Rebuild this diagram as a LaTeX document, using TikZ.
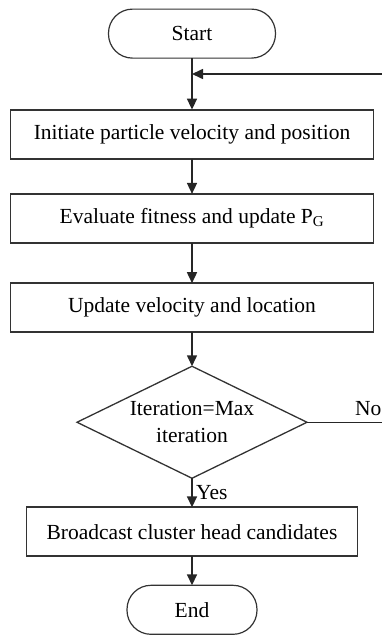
\documentclass[tikz,border=0pt]{standalone}
\usepackage{fontspec}
\setmainfont{Liberation Serif}
\usetikzlibrary{arrows.meta,shapes.geometric,matrix}
\begin{document}
\begin{tikzpicture}[
      x = 1pt, y = 1pt,
      font = \fontsize{21.5}{27}\selectfont,
      term/.style = {
        rectangle,
        draw = black!80, line width = 1.2pt,
        rounded corners = 24pt,
        minimum height = 49pt,
        outer sep = 0,
      },
      box/.style = {
        rectangle,
        draw = black!80, line width = 1.8pt,
        minimum width = 363pt,
        minimum height = 49pt,
        outer sep = 0,
      },
      decision/.style = {
        diamond, aspect = 2.1,
        draw = black!80, line width = 1.3pt,
        align = center,
        inner sep = 0,
        minimum width = 230pt,
        minimum height = 112pt,
        outer sep = 0,
      },
      flow/.style = {
        line width = 1.6pt, draw = black!85,
        -{Triangle[length = 11pt, width = 10pt]},
      },
    ]
    \useasboundingbox (0,0) rectangle (382,-635);

    \matrix[row sep = 33.5pt, inner sep = 0, outer sep = 0, anchor = north] at (192,-8.5) {
      \node[term, minimum width = 167pt] (start) {Start}; \\[16.5pt]
      \node[box] (init) {Initiate particle velocity and position}; \\
      \node[box] (eval) {Evaluate fitness and update P\textsubscript{G}}; \\[5pt]
      \node[box] (upd) {Update velocity and location}; \\[-1pt]
      \node[decision] (dec) {Iteration=Max\\iteration}; \\[-6pt]
      \node[box, minimum width = 331pt] (bcast) {Broadcast cluster head candidates}; \\[-6pt]
      \node[term, minimum width = 130pt] (end) {End}; \\
    };

    \coordinate (loop) at (382,-74);
    \coordinate (no) at (dec.east -| loop);

    \begin{scope}[flow]
      \draw (start) -- (init);
      \draw (loop) -- (loop -| start);
      \draw (init) -- (eval);
      \draw (eval) -- (upd);
      \draw (upd) -- (dec);
      \draw (dec) -- node[right] {Yes} (bcast);
      \draw (bcast) -- (end);
    \end{scope}

    \draw[line width = 1.3pt, draw = black!85] (dec) -- (no)
      node[anchor = south east, inner sep = 1pt, xshift = 1pt, yshift = 5pt] {No};

  \end{tikzpicture}
\end{document}
